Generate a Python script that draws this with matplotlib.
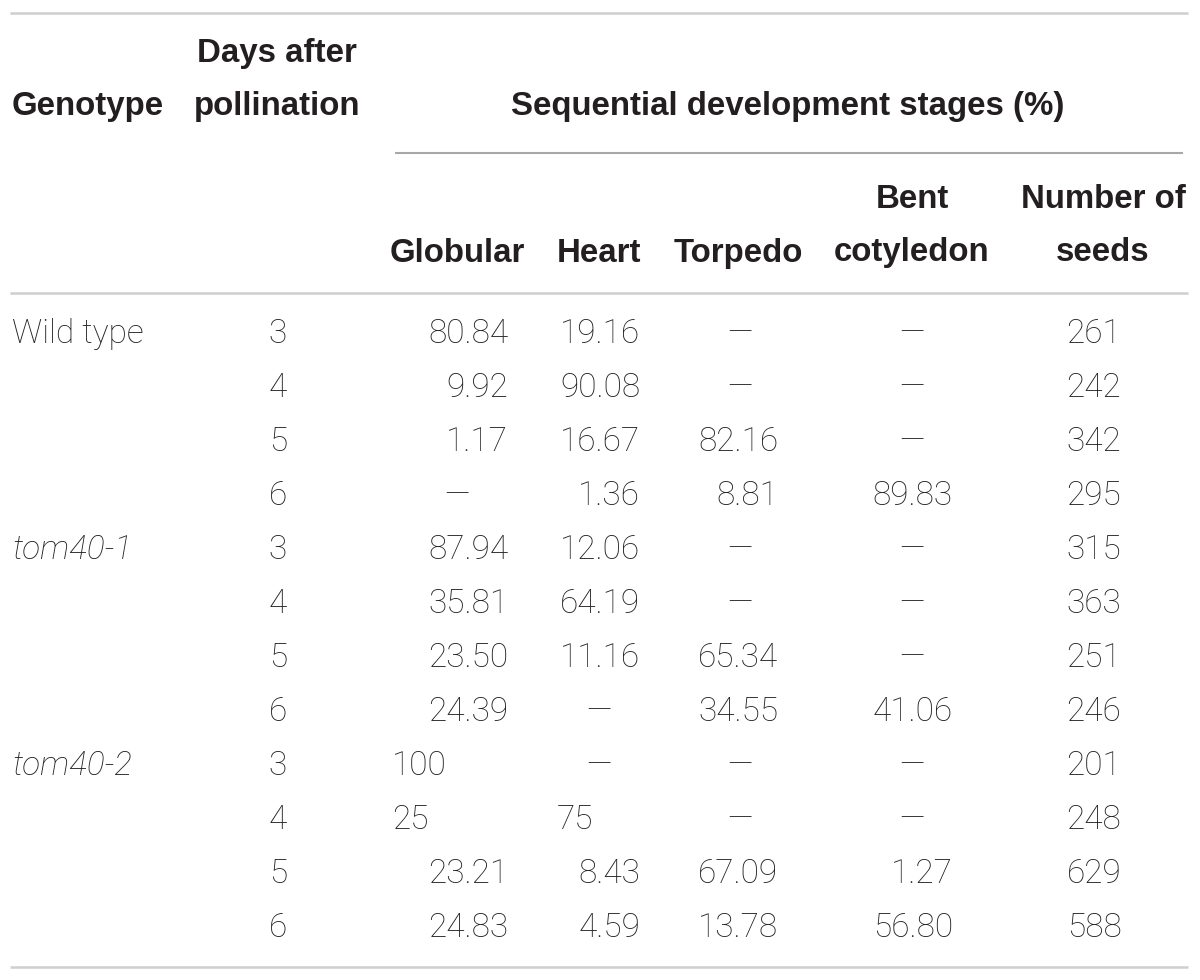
import matplotlib
matplotlib.use("Agg")
import matplotlib.pyplot as plt

# ---------------- data ----------------
genotypes = ["Wild type", "", "", "", "tom40-1", "", "", "", "tom40-2", "", "", ""]
italic_rows = [False, False, False, False, True, True, True, True, True, True, True, True]
days = ["3", "4", "5", "6", "3", "4", "5", "6", "3", "4", "5", "6"]
globular = ["80.84", "9.92", "1.17", None, "87.94", "35.81", "23.50", "24.39", "100", "25", "23.21", "24.83"]
heart = ["19.16", "90.08", "16.67", "1.36", "12.06", "64.19", "11.16", None, None, "75", "8.43", "4.59"]
torpedo = [None, None, "82.16", "8.81", None, None, "65.34", "34.55", None, None, "67.09", "13.78"]
bent = [None, None, None, "89.83", None, None, None, "41.06", None, None, "1.27", "56.80"]
seeds = ["261", "242", "342", "295", "315", "363", "251", "246", "201", "248", "629", "588"]

stage_names = ["Globular", "Heart", "Torpedo", "Bent\ncotyledon"]

# ---------------- layout ----------------
W, H = 1200, 980
fig = plt.figure(figsize=(W / 100, H / 100), dpi=100)
ax = fig.add_axes([0, 0, 1, 1])
ax.set_xlim(0, W)
ax.set_ylim(H, 0)
ax.axis("off")

txt = "#231f20"
bold = dict(family="Liberation Sans", fontweight="bold", fontsize=23.8, color=txt)
body = dict(family="Roboto", fontweight="light", fontsize=24, color=txt)
ls2 = 1.93

# rules
ax.plot([10, 1188], [13, 13], color="#cfcfcf", lw=1.8, solid_capstyle="butt")
ax.plot([395, 1183], [153, 153], color="#a8a8a8", lw=1.5, solid_capstyle="butt")
ax.plot([10, 1188], [293, 293], color="#cfcfcf", lw=1.8, solid_capstyle="butt")
ax.plot([10, 1188], [967, 967], color="#cfcfcf", lw=1.8, solid_capstyle="butt")

# headers
ax.text(12, 107, "Genotype", ha="left", va="center", **bold)
ax.text(277, 80, "Days after\npollination", ha="center", va="center", linespacing=ls2, **bold)
ax.text(788, 107, "Sequential development stages (%)", ha="center", va="center", **bold)
stage_x = [457, 599, 738, 912]
for name, x in zip(stage_names, stage_x):
    if "\n" in name:
        ax.text(x, 226, name, ha="center", va="center", linespacing=ls2, **bold)
    else:
        ax.text(x, 253, name, ha="center", va="center", **bold)
ax.text(1103, 226, "Number of\nseeds", ha="center", va="center", linespacing=ls2, **bold)

# body
row_y0, row_dy = 334, 54
cols = [
    (globular, 508, 392, 457),
    (heart, 640, 557, 599),
    (torpedo, 778, 697, 740),
    (bent, 953, 873, 912),
]
for i in range(len(days)):
    y = row_y0 + i * row_dy
    if genotypes[i]:
        ax.text(12, y, genotypes[i], ha="left", va="center",
                style="italic" if italic_rows[i] else "normal", **body)
    ax.text(278, y, days[i], ha="center", va="center", **body)
    for vals, xr, xl, xc in cols:
        v = vals[i]
        if v is None:
            ax.text(xc, y, "\u2014", ha="center", va="center", **body)
        elif "." in v:
            ax.text(xr, y, v, ha="right", va="center", **body)
        else:
            ax.text(xl, y, v, ha="left", va="center", **body)
    ax.text(1094, y, seeds[i], ha="center", va="center", **body)

fig.savefig("out.png", dpi=100, facecolor="white")
